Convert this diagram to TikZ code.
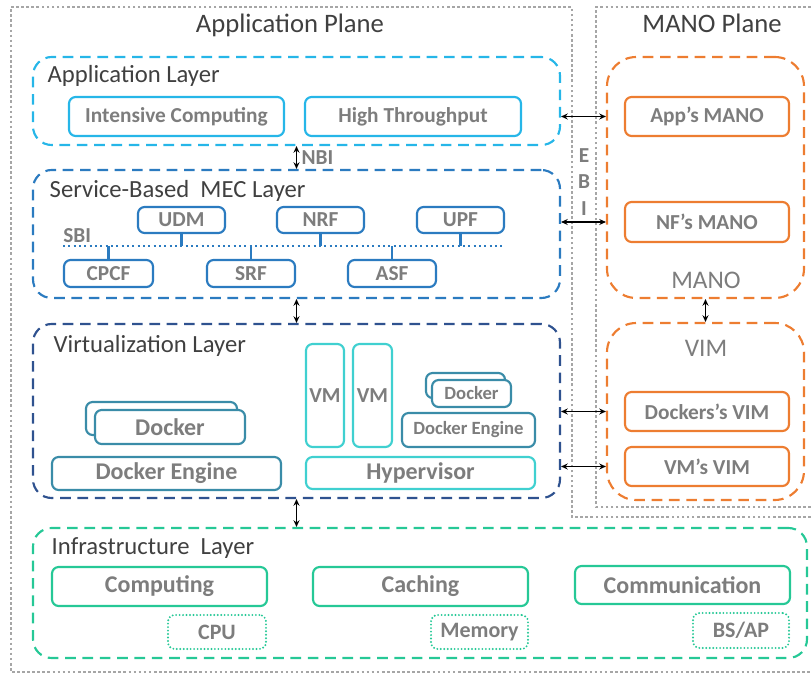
\documentclass[tikz,border=0pt]{standalone}
\usepackage{fontspec}
\setmainfont{Carlito}
\usetikzlibrary{arrows.meta}
\definecolor{applblue}{RGB}{38,182,232}
\definecolor{mecblue}{RGB}{43,123,192}
\definecolor{virtblue}{RGB}{47,82,143}
\definecolor{dockteal}{RGB}{58,140,168}
\definecolor{vmcyan}{RGB}{64,208,208}
\definecolor{infragreen}{RGB}{38,200,150}
\definecolor{manoorange}{RGB}{237,125,49}
\definecolor{planegray}{RGB}{166,166,166}
\definecolor{textgray}{RGB}{125,125,125}
\definecolor{titlegray}{RGB}{64,64,64}

\begin{document}
\begin{tikzpicture}[x=0.75pt, y=-0.75pt,
  px/.style 2 args={minimum width=#1*0.75pt, minimum height=#2*0.75pt},
  plane/.style={planegray, line width=2pt, dash pattern=on 2pt off 1.8pt},
  layer/.style={line width=1.6pt, dash pattern=on 8pt off 5pt, rounded corners=14pt, inner sep=0pt},
  box/.style={line width=1.6pt, rounded corners=5pt, fill=white, inner sep=0pt, text=textgray, font=\bfseries\fontsize{16}{19}\selectfont},
  bigbox/.style={box, font=\bfseries\fontsize{18}{21}\selectfont},
  smallbox/.style={box, font=\bfseries\fontsize{14}{17}\selectfont},
  dotbox/.style={box, fill=none, dash pattern=on 0pt off 2.6pt, line cap=round, font=\bfseries\fontsize{16.5}{19}\selectfont},
  planetitle/.style={anchor=base, text=titlegray, font=\fontsize{20}{24}\selectfont},
  layertitle/.style={anchor=base west, text=titlegray, font=\fontsize{18.5}{22}\selectfont},
  sublabel/.style={anchor=base, text=textgray, font=\fontsize{19}{23}\selectfont},
  iface/.style={text=textgray, font=\bfseries\fontsize{16}{20}\selectfont},
  dbl/.style={{Stealth[length=5pt,width=4.5pt]}-{Stealth[length=5pt,width=4.5pt]}, line width=0.9pt},
  sbibus/.style={mecblue, line width=1.6pt, dash pattern=on 1.5pt off 2.5pt},
  stub/.style={mecblue, line width=1.6pt},
]
\useasboundingbox (0,0) rectangle (811,674);
% planes
\draw[plane] (811,517) -- (572,517) -- (572,7) -- (11,7) -- (11,672) -- (811,672);
\draw[plane] (811,507) -- (596,507) -- (596,7) -- (811,7);
\node[planetitle] (apptitle) at (290,33) {Application Plane};
\node[planetitle] (manotitle) at (712,33) {MANO Plane};

% application layer
\node[layer, draw=applblue, px={527}{88}] (applayer) at (296.5,101) {};
\node[layertitle] (appltitle) at (43,83) {Application Layer};
\node[box, draw=applblue, px={215}{39}] (intcomp) at (176.5,116.5) {Intensive Computing};
\node[box, draw=applblue, px={216}{39}] (highthr) at (413,116.5) {High Throughput};

% service-based MEC layer
\node[layer, draw=mecblue, px={527}{128}] (meclayer) at (296.5,234) {};
\node[layertitle] (mectitle) at (45,197) {Service-Based~~MEC Layer};
\coordinate (sbiL) at (63,246);
\coordinate (sbiR) at (503,246);
\draw[sbibus] (sbiL) -- (sbiR);
\node[iface, anchor=base west, inner sep=0pt] (sbi) at (63,242) {SBI};
\node[box, draw=mecblue, px={87}{26}] (udm) at (181.5,220) {UDM};
\node[box, draw=mecblue, px={87}{26}] (nrf) at (320.5,220) {NRF};
\node[box, draw=mecblue, px={87}{26}] (upf) at (460.5,220) {UPF};
\node[box, draw=mecblue, px={89}{27}] (cpcf) at (108.5,273.5) {CPCF};
\node[box, draw=mecblue, px={88}{27}] (srf) at (251,273.5) {SRF};
\node[box, draw=mecblue, px={88}{27}] (asf) at (392,273.5) {ASF};
\foreach \nf in {udm,nrf,upf}
  \draw[stub] (\nf.south) -- (\nf.south |- sbiL);
\foreach \nf in {cpcf,srf,asf}
  \draw[stub] (\nf.north) -- (\nf.north |- sbiL);

% virtualization layer
\node[layer, draw=virtblue, px={527}{174}] (virtlayer) at (296.5,411) {};
\node[layertitle] (virttitle) at (49,352) {Virtualization Layer};
\node[box, draw=dockteal, px={151}{33}] (dockback) at (161.5,418.5) {};
\node[bigbox, draw=dockteal, px={150}{34}] (docker) at (170,427) {Docker};
\node[bigbox, draw=dockteal, px={229}{33}] (dockeng) at (166.5,473.5) {Docker Engine};
\node[box, draw=vmcyan, px={38}{103}] (vma) at (325,395.5) {VM};
\node[box, draw=vmcyan, px={39}{103}] (vmb) at (372.5,395.5) {VM};
\node[bigbox, draw=vmcyan, px={229}{32}] (hyper) at (420.5,473) {Hypervisor};
\node[smallbox, draw=dockteal, px={79}{25}] (sdockback) at (465.5,385.5) {};
\node[smallbox, draw=dockteal, px={79}{27}] (sdocker) at (471.5,393.5) {Docker};
\node[smallbox, draw=dockteal, px={133}{34}] (sdockeng) at (468.5,430) {Docker Engine};

% infrastructure layer
\node[layer, draw=infragreen, px={774}{130}] (infralayer) at (420,593) {};
\node[layertitle] (infratitle) at (47,554) {Infrastructure~~Layer};
\node[bigbox, draw=infragreen, px={215}{39}] (computing) at (159.5,586.5) {Computing};
\node[bigbox, draw=infragreen, px={215}{39}] (caching) at (420.5,586.5) {Caching};
\node[bigbox, draw=infragreen, px={215}{38}] (comm) at (682.5,585) {Communication};
\node[dotbox, draw=infragreen, px={98}{34}] (cpu) at (217,632) {CPU};
\node[dotbox, draw=infragreen, px={97}{34}] (memory) at (479.5,632) {Memory};
\node[dotbox, draw=infragreen, px={96}{35}] (bsap) at (741,630.5) {BS/AP};

% MANO plane
\node[layer, draw=manoorange, rounded corners=22pt, px={197}{241}] (mano) at (705.5,177.5) {};
\node[box, draw=manoorange, px={164}{39}] (appmano) at (707,116.5) {App's MANO};
\node[box, draw=manoorange, px={164}{40}] (nfmano) at (707,222) {NF's MANO};
\node[sublabel] (manolabel) at (706,288) {MANO};
\node[layer, draw=manoorange, rounded corners=22pt, px={197}{177}] (vim) at (705.5,411.5) {};
\node[sublabel] (vimlabel) at (706,356) {VIM};
\node[box, draw=manoorange, px={164}{39}] (dockvim) at (707,411.5) {Dockers's VIM};
\node[box, draw=manoorange, px={164}{39}] (vmvim) at (707,466.5) {VM's VIM};

% interfaces
\draw[dbl] (applayer.south) -- node[iface, right] (nbi) {NBI} (meclayer.north);
\draw[dbl] (meclayer.south) -- (virtlayer.north);
\draw[dbl] (virtlayer.south) -- (virtlayer.south |- infralayer.north);
\draw[dbl] (mano.south) -- (vim.north);
\draw[dbl] (applayer.east |- appmano) -- (mano.west |- appmano);
\draw[dbl] (meclayer.east |- nfmano) -- (mano.west |- nfmano);
\draw[dbl] (virtlayer.east |- dockvim) -- (vim.west |- dockvim);
\draw[dbl] (virtlayer.east |- vmvim) -- (vim.west |- vmvim);
\node[iface, align=center] (ebi) at (584,182) {E\\B\\I};
\end{tikzpicture}
\end{document}
